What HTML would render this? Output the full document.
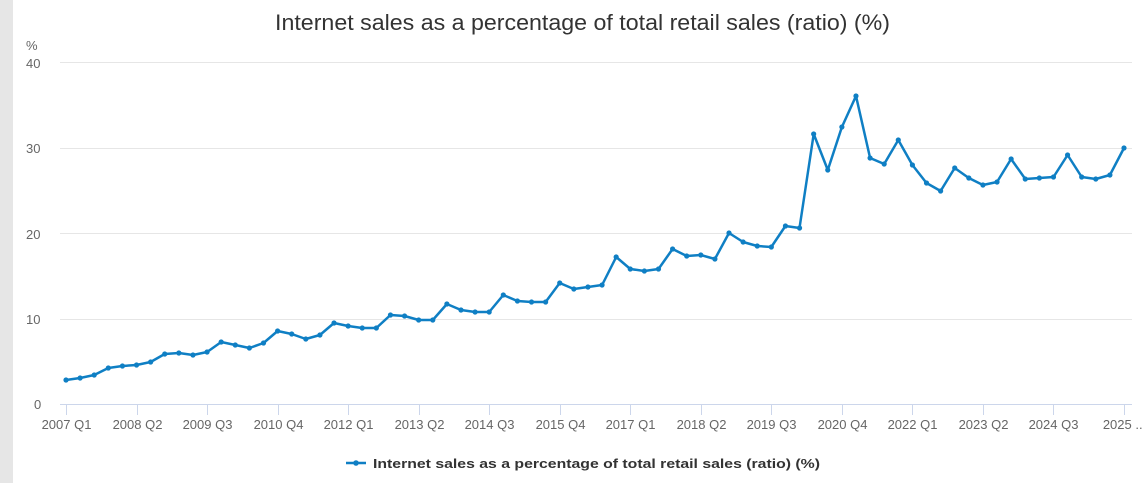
<!DOCTYPE html>
<html><head><meta charset="utf-8"><style>
html,body{margin:0;padding:0;background:#fff;width:1143px;height:483px;overflow:hidden}
svg text{font-family:"Liberation Sans",sans-serif}
</style></head><body>
<svg width="1143" height="483" viewBox="0 0 1143 483" xmlns="http://www.w3.org/2000/svg">
<rect x="0" y="0" width="13" height="483" fill="#e6e6e6"/>
<text x="275" y="30" font-size="22" fill="#333" textLength="615" lengthAdjust="spacingAndGlyphs">Internet sales as a percentage of total retail sales (ratio) (%)</text>
<g stroke="#e6e6e6" stroke-width="1">
<line x1="60" x2="1132" y1="62.5" y2="62.5"/>
<line x1="60" x2="1132" y1="148.5" y2="148.5"/>
<line x1="60" x2="1132" y1="233.5" y2="233.5"/>
<line x1="60" x2="1132" y1="319.5" y2="319.5"/>
</g>
<line x1="60" x2="1132" y1="404.5" y2="404.5" stroke="#ccd6eb" stroke-width="1"/>
<g font-size="13" fill="#666">
<text x="26" y="50">%</text>
<text x="26" y="68">40</text>
<text x="26" y="153">30</text>
<text x="26" y="239">20</text>
<text x="26" y="324">10</text>
<text x="34" y="409">0</text>
</g>
<g id="ticks" stroke="#ccd6eb" stroke-width="1"></g>
<g id="labels" font-size="13" fill="#666" text-anchor="middle"></g>
<polyline id="line" fill="none" stroke="#0f7fc4" stroke-width="2.5" stroke-linejoin="round"/>
<g id="dots" fill="#0f7fc4"></g>
<line x1="346" x2="366" y1="463" y2="463" stroke="#0f7fc4" stroke-width="2.5"/>
<circle cx="356" cy="463" r="2.8" fill="#0f7fc4"/>
<text x="373" y="468" font-size="13" font-weight="bold" fill="#333" textLength="447" lengthAdjust="spacingAndGlyphs">Internet sales as a percentage of total retail sales (ratio) (%)</text>
</svg>
<script>
var ys=[380,378,375,368,366,365,362,354,353,355,352,342,345,348,343,331,334,339,335,323,326,328,328,315,316,320,320,304,310,312,312,295,301,302,302,283,289,287,285,257,269,271,269,249,256,255,259,233,242,246,247,226,228,134,170,127,96,158,164,140,165,183,191,168,178,185,182,159,179,178,177,155,177,179,175,148];
var ns="http://www.w3.org/2000/svg",pts=[],d=document.getElementById('dots');
var step=(1124-66)/(ys.length-1);
ys.forEach(function(y,i){var x=66+i*step;pts.push(x.toFixed(1)+","+y);
var c=document.createElementNS(ns,'circle');c.setAttribute('cx',x);c.setAttribute('cy',y);c.setAttribute('r',2.6);d.appendChild(c);});
document.getElementById('line').setAttribute('points',pts.join(' '));
var labs=["2007 Q1","2008 Q2","2009 Q3","2010 Q4","2012 Q1","2013 Q2","2014 Q3","2015 Q4","2017 Q1","2018 Q2","2019 Q3","2020 Q4","2022 Q1","2023 Q2","2024 Q3","2025 ..."];
var tg=document.getElementById('ticks'),lg=document.getElementById('labels');
labs.forEach(function(l,k){var x=Math.round(66+k*5*step)+0.5;
var t=document.createElementNS(ns,'line');t.setAttribute('x1',x);t.setAttribute('x2',x);t.setAttribute('y1',404);t.setAttribute('y2',415);tg.appendChild(t);
var tx=document.createElementNS(ns,'text');tx.setAttribute('x',x);tx.setAttribute('y',429);tx.textContent=l;lg.appendChild(tx);});
</script>
</body></html>
